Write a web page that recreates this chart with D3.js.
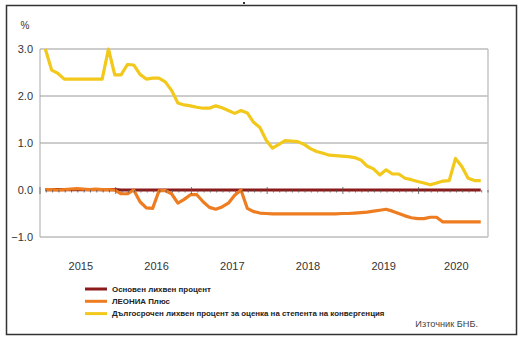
<!DOCTYPE html>
<html><head><meta charset="utf-8">
<script src="https://cdnjs.cloudflare.com/ajax/libs/d3/7.8.5/d3.min.js"></script>
<style>body{margin:0;background:#fff}svg{display:block}</style>
</head><body><svg id="c" width="523" height="340"></svg>
<script>
// months: Jan 2015 .. Oct 2020 (70 monthly observations)
const years = ["2015","2016","2017","2018","2019","2020"];
const yTicks = [3.0, 2.0, 1.0, 0.0, -1.0];
const seriesNames = ["Основен лихвен процент","ЛЕОНИА Плюс","Дългосрочен лихвен процент за оценка на степента на конвергенция"];
const baseRate = [0.01,0.01,0.01,0.01,0.01,0.01,0.01,0.01,0.01,0.01,0.01,0.01,
  0,0,0,0,0,0,0,0,0,0,0,0, 0,0,0,0,0,0,0,0,0,0,0,0, 0,0,0,0,0,0,0,0,0,0,0,0,
  0,0,0,0,0,0,0,0,0,0,0,0, 0,0,0,0,0,0,0,0,0,0];
const leonia = [0.01,0.01,0.00,0.01,0.02,0.03,0.02,0.01,0.02,0.01,0.01,0.00,
  -0.08,-0.08,0.00,-0.25,-0.38,-0.39,-0.02,-0.01,-0.08,-0.28,-0.20,-0.10,
  -0.10,-0.25,-0.37,-0.41,-0.36,-0.28,-0.11,0.00,-0.39,-0.46,-0.49,-0.50,
  -0.51,-0.51,-0.51,-0.51,-0.51,-0.51,-0.51,-0.51,-0.51,-0.51,-0.51,-0.50,
  -0.50,-0.49,-0.48,-0.47,-0.45,-0.43,-0.41,-0.45,-0.50,-0.55,-0.59,-0.61,
  -0.61,-0.58,-0.58,-0.68,-0.68,-0.68,-0.68,-0.68,-0.68,-0.68];
const ltir = [3.00,2.55,2.48,2.36,2.36,2.36,2.36,2.36,2.36,2.36,3.00,2.45,
  2.45,2.67,2.66,2.46,2.36,2.38,2.38,2.30,2.12,1.85,1.81,1.79,
  1.76,1.74,1.74,1.79,1.75,1.69,1.63,1.69,1.64,1.44,1.33,1.06,
  0.89,0.97,1.05,1.04,1.03,0.97,0.88,0.82,0.78,0.74,0.73,0.72,
  0.71,0.69,0.64,0.51,0.45,0.32,0.43,0.34,0.34,0.25,0.22,0.18,
  0.15,0.11,0.15,0.19,0.20,0.67,0.50,0.25,0.20,0.20];
const colors = ["#8B1A1A","#EE7D22","#F2C81A"];

const svg = d3.select("#c");
const L = 40, R = 488, T = 49, B = 237;
// month units since 1 Jan 2015; observations sit near month end
const x = d3.scaleLinear().domain([0, 71]).range([L, R]);
const pos = i => x(i + 0.85);
const y = d3.scaleLinear().domain([-1, 3]).range([B, T]);

// outer frame
svg.append("rect").attr("x",6.5).attr("y",5.5).attr("width",510).attr("height",329)
  .attr("fill","none").attr("stroke","#333").attr("stroke-width",1.5);
svg.append("rect").attr("x",243).attr("y",2).attr("width",2).attr("height",2).attr("fill","#333");

// gridlines
svg.append("g").selectAll("line").data(yTicks.filter(d=>d!==0)).join("line")
  .attr("x1",L).attr("x2",R).attr("y1",d=>y(d)).attr("y2",d=>y(d))
  .attr("stroke","#9a9a9a").attr("stroke-width",1);
svg.append("line").attr("x1",L).attr("x2",L).attr("y1",T).attr("y2",B).attr("stroke","#a8a8a8");
svg.append("line").attr("x1",R).attr("x2",R).attr("y1",T).attr("y2",B).attr("stroke","#c4c4c4").attr("stroke-width",1.5);

// y labels
svg.append("g").selectAll("text").data(yTicks).join("text")
  .attr("x",33).attr("y",d=>y(d)).attr("dy","0.35em").attr("text-anchor","end")
  .attr("font-family","Liberation Sans, Arial, sans-serif").attr("font-size",11).attr("fill","#333")
  .text(d=>d3.format(".1f")(d));
svg.append("text").attr("x",25).attr("y",29).attr("text-anchor","middle")
  .attr("font-family","Liberation Sans, Arial, sans-serif").attr("font-size",10).attr("fill","#333").text("%");

// lines
const line = d3.line().x((d,i)=>pos(i)).y(d=>y(d));
[baseRate, leonia, ltir].forEach((s,k)=>{
  svg.append("path").datum(s).attr("d",line).attr("fill","none")
    .attr("stroke",colors[k]).attr("stroke-width",3.2).attr("stroke-linejoin","round");
});

// month ticks on zero line
const months = d3.range(0, 72);
svg.append("g").selectAll("line").data(months).join("line")
  .attr("x1",d=>x(d)).attr("x2",d=>x(d))
  .attr("y1",d=> d%12===0 ? y(0)-3 : y(0))
  .attr("y2",d=> d%12===0 ? y(0)+4 : y(0)+2.5)
  .attr("stroke","#555").attr("stroke-width",0.8);

// year labels
svg.append("g").selectAll("text").data(years).join("text")
  .attr("x",(d,i)=> i<5 ? x(i*12+6)+3 : x(60+5.5)+3)
  .attr("y",270).attr("text-anchor","middle")
  .attr("font-family","Liberation Sans, Arial, sans-serif").attr("font-size",11).attr("fill","#333")
  .text(d=>d);

// legend
const lg = svg.append("g");
seriesNames.forEach((n,k)=>{
  const yy = 289 + k*12.3;
  lg.append("line").attr("x1",85).attr("x2",107).attr("y1",yy).attr("y2",yy)
    .attr("stroke",colors[k]).attr("stroke-width",3);
  lg.append("text").attr("x",112).attr("y",yy).attr("dy","0.35em")
    .attr("font-family","Liberation Sans, Arial, sans-serif").attr("font-size",7.9)
    .attr("font-weight","bold").attr("fill","#222").text(n);
});
svg.append("text").attr("x",478).attr("y",327).attr("text-anchor","end")
  .attr("font-family","Liberation Sans, Arial, sans-serif").attr("font-size",9.2).attr("fill","#444")
  .text("Източник БНБ.");
</script></body></html>
